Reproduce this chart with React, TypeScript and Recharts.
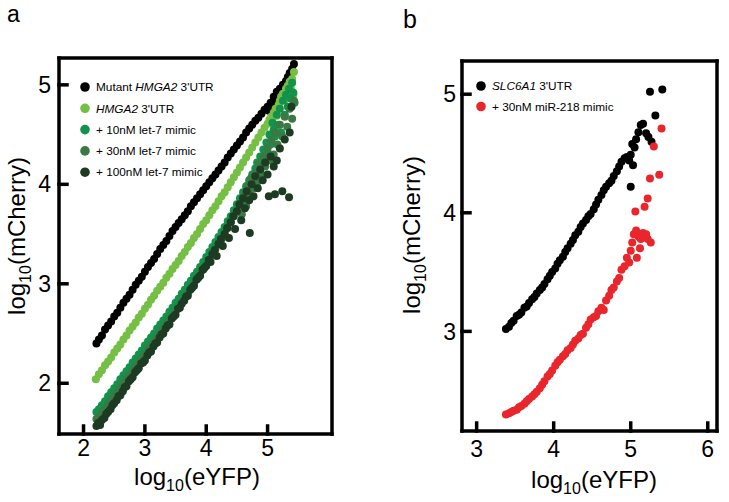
import { ScatterChart, Scatter, XAxis, YAxis, Legend } from "recharts";

type Pt = [number, number];

// panel a: log10(eYFP) vs log10(mCherry)
const mutantHmga2: Pt[] = [
  [2.21, 2.4], [2.25, 2.44], [2.3, 2.48], [2.35, 2.54], [2.4, 2.58], [2.45, 2.62], [2.5, 2.67], [2.55, 2.71],
  [2.6, 2.76], [2.65, 2.81], [2.7, 2.85], [2.75, 2.89], [2.8, 2.94], [2.85, 2.99], [2.9, 3.03], [2.95, 3.07],
  [3.0, 3.12], [3.05, 3.17], [3.1, 3.21], [3.15, 3.25], [3.2, 3.3], [3.25, 3.35], [3.3, 3.39], [3.35, 3.43],
  [3.4, 3.48], [3.45, 3.53], [3.5, 3.57], [3.55, 3.61], [3.6, 3.65], [3.65, 3.69], [3.7, 3.73], [3.75, 3.78],
  [3.8, 3.82], [3.85, 3.86], [3.9, 3.9], [3.95, 3.94], [4.0, 3.98], [4.05, 4.02], [4.1, 4.06], [4.15, 4.1],
  [4.2, 4.14], [4.25, 4.18], [4.3, 4.22], [4.35, 4.27], [4.4, 4.31], [4.45, 4.35], [4.5, 4.39], [4.55, 4.43],
  [4.6, 4.47], [4.65, 4.52], [4.7, 4.56], [4.75, 4.6], [4.8, 4.64], [4.85, 4.67], [4.9, 4.71], [4.95, 4.75],
  [5.0, 4.78], [5.02, 4.74], [5.05, 4.82], [5.08, 4.8], [5.1, 4.88], [5.13, 4.85], [5.15, 4.93], [5.18, 4.9],
  [5.2, 4.96], [5.23, 4.92], [5.25, 5.0], [5.28, 4.95], [5.3, 5.04], [5.33, 5.08], [5.36, 5.12], [5.4, 5.16],
  [5.43, 5.21], [5.27, 4.88],
];

const hmga2: Pt[] = [
  [2.2, 2.04], [2.25, 2.09], [2.3, 2.13], [2.35, 2.18], [2.4, 2.22], [2.45, 2.26], [2.5, 2.31], [2.55, 2.35],
  [2.6, 2.39], [2.65, 2.44], [2.7, 2.48], [2.75, 2.53], [2.8, 2.57], [2.85, 2.61], [2.9, 2.66], [2.95, 2.7],
  [3.0, 2.75], [3.05, 2.79], [3.1, 2.84], [3.15, 2.88], [3.2, 2.93], [3.25, 2.97], [3.3, 3.01], [3.35, 3.06],
  [3.4, 3.1], [3.45, 3.15], [3.5, 3.19], [3.55, 3.23], [3.6, 3.28], [3.65, 3.32], [3.7, 3.37], [3.75, 3.41],
  [3.8, 3.46], [3.85, 3.5], [3.9, 3.55], [3.95, 3.6], [4.0, 3.64], [4.05, 3.69], [4.1, 3.74], [4.15, 3.78],
  [4.2, 3.83], [4.25, 3.88], [4.3, 3.92], [4.35, 3.97], [4.4, 4.02], [4.45, 4.07], [4.5, 4.12], [4.55, 4.17],
  [4.6, 4.22], [4.65, 4.27], [4.7, 4.32], [4.75, 4.37], [4.8, 4.42], [4.85, 4.47], [4.9, 4.52], [4.95, 4.57],
  [5.0, 4.61], [5.03, 4.65], [5.06, 4.68], [5.08, 4.63], [5.1, 4.72], [5.13, 4.76], [5.15, 4.69], [5.18, 4.8],
  [5.2, 4.84], [5.22, 4.88], [5.25, 4.91], [5.28, 4.85], [5.3, 4.96], [5.33, 4.99], [5.36, 5.03], [5.38, 4.96],
  [5.4, 5.06], [5.43, 5.13], [5.42, 4.9],
];

const let7_10nM: Pt[] = [
  [2.21, 1.71], [2.25, 1.74], [2.3, 1.78], [2.35, 1.82], [2.4, 1.87], [2.45, 1.91], [2.5, 1.95], [2.55, 1.99],
  [2.6, 2.04], [2.65, 2.08], [2.7, 2.12], [2.75, 2.16], [2.8, 2.21], [2.85, 2.25], [2.9, 2.29], [2.95, 2.33],
  [3.0, 2.38], [3.05, 2.42], [3.1, 2.46], [3.15, 2.5], [3.2, 2.55], [3.25, 2.59], [3.3, 2.63], [3.35, 2.67],
  [3.4, 2.72], [3.45, 2.76], [3.5, 2.81], [3.55, 2.85], [3.6, 2.9], [3.65, 2.94], [3.7, 2.99], [3.75, 3.03],
  [3.8, 3.08], [3.85, 3.12], [3.9, 3.17], [3.95, 3.22], [4.0, 3.27], [4.05, 3.32], [4.1, 3.37], [4.15, 3.42],
  [4.2, 3.47], [4.25, 3.52], [4.3, 3.57], [4.35, 3.63], [4.4, 3.68], [4.45, 3.74], [4.5, 3.8], [4.55, 3.86],
  [4.6, 3.92], [4.63, 3.85], [4.65, 3.98], [4.7, 4.04], [4.72, 3.95], [4.75, 4.1], [4.78, 4.02], [4.8, 4.16],
  [4.83, 4.22], [4.85, 4.12], [4.88, 4.28], [4.9, 4.2], [4.93, 4.35], [4.95, 4.26], [4.98, 4.42], [5.0, 4.32],
  [5.03, 4.5], [5.05, 4.4], [5.08, 4.62], [5.1, 4.55], [5.12, 4.48], [5.15, 4.7], [5.18, 4.6], [5.2, 4.76],
  [5.22, 4.52], [5.25, 4.84], [5.28, 4.7], [5.3, 4.9], [5.33, 4.78], [5.35, 4.96], [5.38, 4.86], [5.4, 5.02],
  [5.42, 4.92], [5.44, 4.82],
];

const let7_30nM: Pt[] = [
  [2.21, 1.64], [2.25, 1.66], [2.3, 1.7], [2.35, 1.74], [2.4, 1.79], [2.45, 1.83], [2.5, 1.87], [2.55, 1.91],
  [2.6, 1.96], [2.65, 2.0], [2.7, 2.04], [2.75, 2.08], [2.8, 2.12], [2.85, 2.17], [2.9, 2.21], [2.95, 2.25],
  [3.0, 2.29], [3.05, 2.34], [3.1, 2.38], [3.15, 2.42], [3.2, 2.46], [3.25, 2.51], [3.3, 2.55], [3.35, 2.59],
  [3.4, 2.64], [3.45, 2.68], [3.5, 2.73], [3.55, 2.77], [3.6, 2.82], [3.65, 2.86], [3.7, 2.91], [3.75, 2.95],
  [3.8, 3.0], [3.85, 3.05], [3.9, 3.1], [3.95, 3.14], [4.0, 3.19], [4.05, 3.24], [4.1, 3.29], [4.15, 3.35],
  [4.2, 3.4], [4.25, 3.45], [4.3, 3.51], [4.35, 3.56], [4.4, 3.62], [4.45, 3.68], [4.5, 3.73], [4.55, 3.79],
  [4.58, 3.7], [4.6, 3.86], [4.63, 3.92], [4.65, 3.78], [4.68, 3.99], [4.7, 3.9], [4.73, 4.06], [4.76, 3.96],
  [4.8, 4.12], [4.83, 4.02], [4.86, 4.2], [4.9, 4.1], [4.93, 4.28], [4.96, 4.18], [5.0, 4.36], [5.03, 4.24],
  [5.06, 4.44], [5.1, 4.3], [5.13, 4.52], [5.16, 4.4], [5.2, 4.6], [5.24, 4.48], [5.28, 4.68], [5.32, 4.58],
  [5.36, 4.76], [5.4, 4.66], [5.43, 4.84],
];

const let7_100nM: Pt[] = [
  [2.21, 1.57], [2.24, 1.6], [2.27, 1.58], [2.3, 1.63], [2.34, 1.65], [2.37, 1.69], [2.4, 1.71], [2.44, 1.74],
  [2.47, 1.78], [2.5, 1.8], [2.54, 1.83], [2.57, 1.87], [2.6, 1.88], [2.64, 1.92], [2.67, 1.96], [2.7, 1.97],
  [2.74, 2.02], [2.77, 2.04], [2.8, 2.06], [2.84, 2.11], [2.87, 2.13], [2.9, 2.15], [2.94, 2.2], [2.97, 2.21],
  [3.0, 2.23], [3.04, 2.28], [3.07, 2.31], [3.1, 2.32], [3.14, 2.37], [3.17, 2.4], [3.2, 2.41], [3.24, 2.46],
  [3.27, 2.49], [3.3, 2.5], [3.34, 2.55], [3.37, 2.58], [3.4, 2.59], [3.44, 2.65], [3.47, 2.67], [3.5, 2.69],
  [3.54, 2.75], [3.57, 2.76], [3.6, 2.8], [3.64, 2.83], [3.67, 2.87], [3.7, 2.88], [3.74, 2.94], [3.77, 2.96],
  [3.8, 2.98], [3.84, 3.04], [3.87, 3.06], [3.9, 3.08], [3.94, 3.14], [3.97, 3.16], [4.0, 3.18], [4.04, 3.24],
  [4.07, 3.22], [4.1, 3.3], [4.14, 3.34], [4.17, 3.28], [4.2, 3.4], [4.24, 3.45], [4.27, 3.38], [4.3, 3.5],
  [4.34, 3.56], [4.37, 3.46], [4.4, 3.62], [4.44, 3.68], [4.47, 3.55], [4.5, 3.73], [4.54, 3.8], [4.57, 3.64],
  [4.6, 3.86], [4.63, 3.76], [4.66, 3.93], [4.7, 3.84], [4.71, 3.51], [4.74, 4.0], [4.77, 3.88], [4.8, 4.08],
  [4.84, 3.96], [4.88, 4.15], [4.92, 4.04], [4.96, 4.22], [5.0, 4.1], [5.02, 3.88], [5.05, 4.28], [5.1, 4.18],
  [5.12, 3.9], [5.15, 4.24], [5.2, 4.36], [5.24, 3.93], [5.28, 4.45], [5.35, 3.87], [5.36, 4.52], [5.39, 4.78],
];

// panel b
const slc6a1: Pt[] = [
  [3.38, 3.02], [3.42, 3.04], [3.45, 3.07], [3.48, 3.09], [3.52, 3.13], [3.55, 3.14], [3.58, 3.16], [3.62, 3.2],
  [3.65, 3.21], [3.68, 3.24], [3.72, 3.27], [3.75, 3.29], [3.78, 3.32], [3.82, 3.35], [3.85, 3.37], [3.88, 3.4],
  [3.92, 3.44], [3.95, 3.47], [3.98, 3.5], [4.02, 3.53], [4.05, 3.57], [4.08, 3.6], [4.12, 3.63], [4.15, 3.67],
  [4.18, 3.7], [4.22, 3.74], [4.25, 3.77], [4.28, 3.81], [4.32, 3.84], [4.35, 3.88], [4.38, 3.91], [4.42, 3.94],
  [4.45, 3.97], [4.48, 3.99], [4.52, 4.03], [4.55, 4.07], [4.58, 4.11], [4.62, 4.15], [4.65, 4.19], [4.68, 4.22],
  [4.72, 4.25], [4.75, 4.27], [4.78, 4.31], [4.82, 4.35], [4.85, 4.39], [4.88, 4.43], [4.92, 4.46], [4.95, 4.47],
  [4.98, 4.44], [5.0, 4.49], [5.02, 4.58], [5.05, 4.55], [5.07, 4.62], [5.03, 4.4], [5.0, 4.22], [5.1, 4.68],
  [5.13, 4.74], [5.16, 4.75], [5.2, 4.67], [5.23, 4.64], [5.27, 4.6], [5.25, 5.02], [5.32, 4.82], [5.41, 5.04],
];

const mir218_30nM: Pt[] = [
  [3.38, 2.3], [3.42, 2.31], [3.45, 2.32], [3.48, 2.33], [3.52, 2.34], [3.55, 2.36], [3.58, 2.37], [3.62, 2.39],
  [3.65, 2.41], [3.68, 2.43], [3.72, 2.45], [3.75, 2.47], [3.78, 2.49], [3.82, 2.52], [3.85, 2.55], [3.88, 2.58],
  [3.92, 2.62], [3.95, 2.64], [3.98, 2.67], [4.02, 2.71], [4.05, 2.74], [4.08, 2.76], [4.12, 2.79], [4.15, 2.81],
  [4.18, 2.84], [4.22, 2.86], [4.25, 2.89], [4.28, 2.92], [4.32, 2.94], [4.35, 2.97], [4.38, 2.98], [4.42, 3.03],
  [4.45, 3.06], [4.48, 3.1], [4.52, 3.12], [4.55, 3.13], [4.58, 3.17], [4.62, 3.2], [4.65, 3.18], [4.68, 3.26],
  [4.72, 3.3], [4.75, 3.35], [4.78, 3.37], [4.82, 3.42], [4.85, 3.45], [4.88, 3.52], [4.92, 3.55], [4.95, 3.62],
  [4.98, 3.58], [5.0, 3.68], [5.02, 3.75], [5.04, 3.82], [5.07, 3.85], [5.1, 3.8], [5.13, 3.78], [5.16, 3.83],
  [5.2, 3.82], [5.22, 3.78], [5.26, 3.75], [5.06, 4.01], [5.18, 4.05], [5.22, 4.12], [5.25, 4.29], [5.37, 4.32],
  [5.3, 4.56], [5.4, 4.71], [5.12, 3.7], [5.08, 3.62],
];

const xTicksA = [2, 3, 4, 5];
const yTicksA = [2, 3, 4, 5];
const xTicksB = [3, 4, 5, 6];
const yTicksB = [3, 4, 5];

const FONT = '"Liberation Sans", Arial, Helvetica, sans-serif';

type LegendItem = { pre: string; it: string; post: string; color: string };

const legendA: LegendItem[] = [
  { pre: "Mutant ", it: "HMGA2", post: " 3'UTR", color: "#000000" },
  { pre: "", it: "HMGA2", post: " 3'UTR", color: "#74bf44" },
  { pre: "+ 10nM let-7 mimic", it: "", post: "", color: "#12924a" },
  { pre: "+ 30nM let-7 mimic", it: "", post: "", color: "#3b7843" },
  { pre: "+ 100nM let-7 mimic", it: "", post: "", color: "#1d3b23" },
];

const legendB: LegendItem[] = [
  { pre: "", it: "SLC6A1", post: " 3'UTR", color: "#000000" },
  { pre: "+ 30nM miR-218 mimic", it: "", post: "", color: "#e8262b" },
];

const rows = (pts: Pt[]) => pts.map(([x, y]) => ({ x, y }));

const dot = (fill: string) => (p: any) => <circle cx={p.cx} cy={p.cy} r={4} fill={fill} />;

const lineProps = { stroke: "#000", strokeWidth: 3.5, strokeLinecap: "square" as const };
const tickStyle = { fontSize: 23, fill: "#000", fontFamily: FONT };

function LegendBox({ items, gap }: { items: LegendItem[]; gap: number }) {
  return (
    <svg width={260} height={items.length * gap + 10} style={{ display: "block" }}>
      {items.map((d, i) => (
        <g key={i}>
          <circle cx={6} cy={6 + i * gap} r={4.8} fill={d.color} />
          <text x={17} y={6 + i * gap + 4.2} fontSize={11.8} fontFamily={FONT} fill="#000">
            {d.pre}
            {d.it && <tspan fontStyle="italic">{d.it}</tspan>}
            {d.post}
          </text>
        </g>
      ))}
    </svg>
  );
}

function Frame(p: {
  xDomain: [number, number];
  yDomain: [number, number];
  xTicks: number[];
  yTicks: number[];
  xHeight: number;
  yWidth: number;
  xMargin: number;
  yMargin: number;
}) {
  return [
    <XAxis key="xb" xAxisId="b" type="number" dataKey="x" orientation="bottom" domain={p.xDomain} ticks={p.xTicks}
      allowDataOverflow height={p.xHeight} tickSize={-8} tickMargin={p.xMargin} axisLine={lineProps} tickLine={lineProps} tick={tickStyle} />,
    <XAxis key="xt" xAxisId="t" type="number" dataKey="x" orientation="top" domain={p.xDomain} ticks={p.xTicks}
      allowDataOverflow height={1} tickSize={-8} axisLine={lineProps} tickLine={lineProps} tick={false} />,
    <YAxis key="yl" yAxisId="l" type="number" dataKey="y" orientation="left" domain={p.yDomain} ticks={p.yTicks}
      allowDataOverflow width={p.yWidth} tickSize={-8} tickMargin={p.yMargin} axisLine={lineProps} tickLine={lineProps} tick={tickStyle} />,
    <YAxis key="yr" yAxisId="r" type="number" dataKey="y" orientation="right" domain={p.yDomain} ticks={p.yTicks}
      allowDataOverflow width={1} tickSize={-8} axisLine={lineProps} tickLine={lineProps} tick={false} />,
  ];
}

function Title({ x, y, name, rotate }: { x: number; y: number; name: string; rotate?: boolean }) {
  return (
    <text transform={`translate(${x},${y})${rotate ? " rotate(-90)" : ""}`} textAnchor="middle" fontSize={24} fontFamily={FONT} fill="#000">
      log<tspan fontSize={16} dy={6}>10</tspan>
      <tspan dy={-6}>({name})</tspan>
    </text>
  );
}

export default function App() {
  return (
    <div style={{ position: "absolute", left: 0, top: 0, width: 729, height: 502, background: "#fff" }}>
      <div style={{ position: "absolute", left: 0, top: 0 }}>
        <ScatterChart width={345} height={502} margin={{ top: 57, right: 12, bottom: 0, left: 0 }}>
          {Frame({ xDomain: [1.6, 6.05], yDomain: [1.49, 5.27], xTicks: xTicksA, yTicks: yTicksA, xHeight: 68, yWidth: 59, xMargin: 14, yMargin: 16 })}
          <Legend layout="vertical" align="center" verticalAlign="middle"
            wrapperStyle={{ left: 79, top: 81, width: 260 }}
            content={() => <LegendBox items={legendA} gap={21.3} />} />
          <Scatter data={rows(mutantHmga2)} xAxisId="b" yAxisId="l" shape={dot("#000000")} isAnimationActive={false} />
          <Scatter data={rows(hmga2)} xAxisId="b" yAxisId="l" shape={dot("#74bf44")} isAnimationActive={false} />
          <Scatter data={rows(let7_10nM)} xAxisId="b" yAxisId="l" shape={dot("#12924a")} isAnimationActive={false} />
          <Scatter data={rows(let7_30nM)} xAxisId="b" yAxisId="l" shape={dot("#3b7843")} isAnimationActive={false} />
          <Scatter data={rows(let7_100nM)} xAxisId="b" yAxisId="l" shape={dot("#1d3b23")} isAnimationActive={false} />
        </ScatterChart>
      </div>
      <div style={{ position: "absolute", left: 380, top: 0 }}>
        <ScatterChart width={349} height={502} margin={{ top: 60, right: 11, bottom: 0, left: 0 }}>
          {Frame({ xDomain: [2.81, 6.12], yDomain: [2.16, 5.28], xTicks: xTicksB, yTicks: yTicksB, xHeight: 71, yWidth: 82, xMargin: 18, yMargin: 14 })}
          <Legend layout="vertical" align="center" verticalAlign="middle"
            wrapperStyle={{ left: 95, top: 80, width: 260 }}
            content={() => <LegendBox items={legendB} gap={20.5} />} />
          <Scatter data={rows(slc6a1)} xAxisId="b" yAxisId="l" shape={dot("#000000")} isAnimationActive={false} />
          <Scatter data={rows(mir218_30nM)} xAxisId="b" yAxisId="l" shape={dot("#e8262b")} isAnimationActive={false} />
        </ScatterChart>
      </div>
      <svg width={729} height={502} style={{ position: "absolute", left: 0, top: 0, pointerEvents: "none" }}>
        <text x={7} y={22} fontSize={23} fontFamily={FONT}>a</text>
        <text x={403} y={28} fontSize={25} fontFamily={FONT}>b</text>
        <Title x={197} y={485} name="eYFP" />
        <Title x={25} y={236} name="mCherry" rotate />
        <Title x={594} y={488} name="eYFP" />
        <Title x={420} y={235} name="mCherry" rotate />
      </svg>
    </div>
  );
}
